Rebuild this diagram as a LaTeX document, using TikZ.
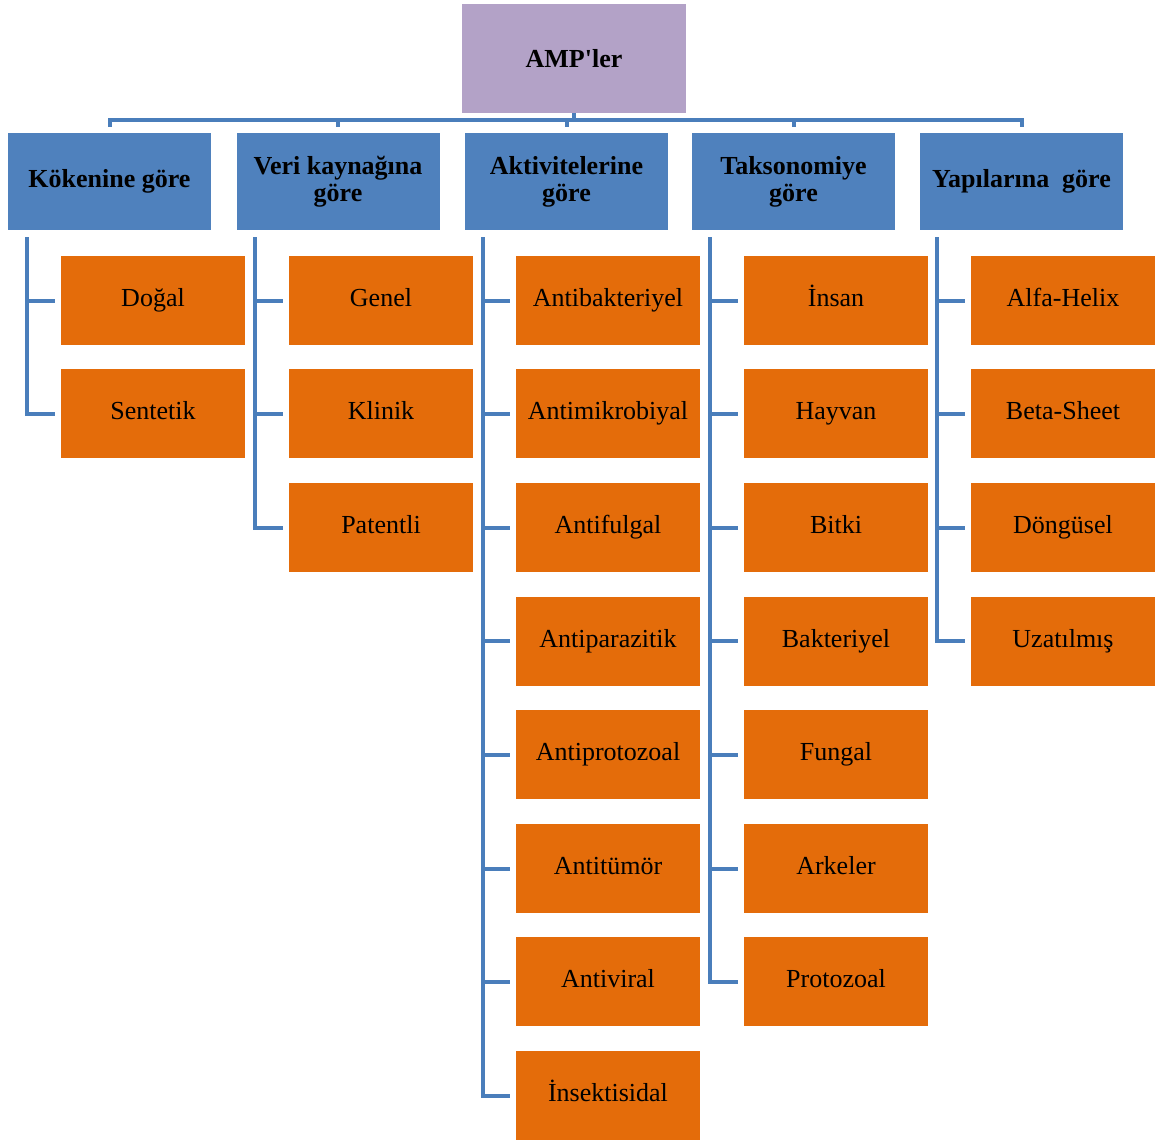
\documentclass[tikz,border=0pt]{standalone}
\usepackage{fontspec}
\setmainfont{Liberation Serif}[Ligatures=TeXOff]
\usepackage{tikz}
\usetikzlibrary{calc}
\definecolor{rootfill}{RGB}{179,162,199}
\definecolor{catfill}{RGB}{79,129,189}
\definecolor{leaffill}{RGB}{228,108,10}
\definecolor{linecol}{RGB}{74,126,187}
\tikzset{
  rootbox/.style={fill=rootfill,inner sep=4pt,minimum width=224pt,minimum height=109pt,font=\bfseries\fontsize{26}{27}\selectfont},
  catbox/.style={fill=catfill,inner sep=4pt,minimum width=203pt,minimum height=97pt,align=center,font=\bfseries\fontsize{26}{27}\selectfont},
  leafbox/.style={fill=leaffill,inner sep=4pt,minimum width=184pt,minimum height=89pt,text height=18pt,text depth=6pt,font=\fontsize{26}{27}\selectfont},
  conn/.style={draw=linecol,line width=4pt}
}
\begin{document}
\begin{tikzpicture}[x=1pt,y=-1pt]
              \useasboundingbox(0,0)rectangle(1155,1140);
              \node[rootbox](amp)at(574,58.5){AMP'ler};
              \node[catbox](kok)at(109.5,181.5){Kökenine göre};
              \node[catbox](veri)at(338,181.5){Veri kaynağına\\göre};
              \node[catbox](akt)at(566.5,181.5){Aktivitelerine\\göre};
              \node[catbox](tak)at(793.5,181.5){Taksonomiye\\göre};
              \node[catbox](yap)at(1021.5,181.5){Yapılarına~ göre};
              \node[leafbox](k1)at(153,300.5){Doğal};
              \node[leafbox](k2)at(153,413.5){Sentetik};
              \node[leafbox](v1)at(381,300.5){Genel};
              \node[leafbox](v2)at(381,413.5){Klinik};
              \node[leafbox](v3)at(381,527.5){Patentli};
              \node[leafbox](a1)at(608,300.5){Antibakteriyel};
              \node[leafbox](a2)at(608,413.5){Antimikrobiyal};
              \node[leafbox](a3)at(608,527.5){Antifulgal};
              \node[leafbox](a4)at(608,641){Antiparazitik};
              \node[leafbox](a5)at(608,754.5){Antiprotozoal};
              \node[leafbox](a6)at(608,868.5){Antitümör};
              \node[leafbox](a7)at(608,981.5){Antiviral};
              \node[leafbox](a8)at(608,1095.5){İnsektisidal};
              \node[leafbox](t1)at(836,300.5){İnsan};
              \node[leafbox](t2)at(836,413.5){Hayvan};
              \node[leafbox](t3)at(836,527.5){Bitki};
              \node[leafbox](t4)at(836,641){Bakteriyel};
              \node[leafbox](t5)at(836,754.5){Fungal};
              \node[leafbox](t6)at(836,868.5){Arkeler};
              \node[leafbox](t7)at(836,981.5){Protozoal};
              \node[leafbox](y1)at(1063,300.5){Alfa-Helix};
              \node[leafbox](y2)at(1063,413.5){Beta-Sheet};
              \node[leafbox](y3)at(1063,527.5){Döngüsel};
              \node[leafbox](y4)at(1063,641){Uzatılmış};
              \draw[conn](amp.south)--++(0,-7pt)-|([yshift=6pt]kok.north);
              \draw[conn](amp.south)--++(0,-7pt)-|([yshift=6pt]veri.north);
              \draw[conn](amp.south)--++(0,-7pt)-|([yshift=6pt]akt.north);
              \draw[conn](amp.south)--++(0,-7pt)-|([yshift=6pt]tak.north);
              \draw[conn](amp.south)--++(0,-7pt)-|([yshift=6pt]yap.north);
              \draw[conn]([xshift=19pt,yshift=-7pt]kok.south west)|-([xshift=-6pt]k1.west);
              \draw[conn]([xshift=19pt,yshift=-7pt]kok.south west)|-([xshift=-6pt]k2.west);
              \draw[conn]([xshift=19pt,yshift=-7pt]veri.south west)|-([xshift=-6pt]v1.west);
              \draw[conn]([xshift=19pt,yshift=-7pt]veri.south west)|-([xshift=-6pt]v2.west);
              \draw[conn]([xshift=19pt,yshift=-7pt]veri.south west)|-([xshift=-6pt]v3.west);
              \draw[conn]([xshift=18pt,yshift=-7pt]akt.south west)|-([xshift=-6pt]a1.west);
              \draw[conn]([xshift=18pt,yshift=-7pt]akt.south west)|-([xshift=-6pt]a2.west);
              \draw[conn]([xshift=18pt,yshift=-7pt]akt.south west)|-([xshift=-6pt]a3.west);
              \draw[conn]([xshift=18pt,yshift=-7pt]akt.south west)|-([xshift=-6pt]a4.west);
              \draw[conn]([xshift=18pt,yshift=-7pt]akt.south west)|-([xshift=-6pt]a5.west);
              \draw[conn]([xshift=18pt,yshift=-7pt]akt.south west)|-([xshift=-6pt]a6.west);
              \draw[conn]([xshift=18pt,yshift=-7pt]akt.south west)|-([xshift=-6pt]a7.west);
              \draw[conn]([xshift=18pt,yshift=-7pt]akt.south west)|-([xshift=-6pt]a8.west);
              \draw[conn]([xshift=18pt,yshift=-7pt]tak.south west)|-([xshift=-6pt]t1.west);
              \draw[conn]([xshift=18pt,yshift=-7pt]tak.south west)|-([xshift=-6pt]t2.west);
              \draw[conn]([xshift=18pt,yshift=-7pt]tak.south west)|-([xshift=-6pt]t3.west);
              \draw[conn]([xshift=18pt,yshift=-7pt]tak.south west)|-([xshift=-6pt]t4.west);
              \draw[conn]([xshift=18pt,yshift=-7pt]tak.south west)|-([xshift=-6pt]t5.west);
              \draw[conn]([xshift=18pt,yshift=-7pt]tak.south west)|-([xshift=-6pt]t6.west);
              \draw[conn]([xshift=18pt,yshift=-7pt]tak.south west)|-([xshift=-6pt]t7.west);
              \draw[conn]([xshift=17pt,yshift=-7pt]yap.south west)|-([xshift=-6pt]y1.west);
              \draw[conn]([xshift=17pt,yshift=-7pt]yap.south west)|-([xshift=-6pt]y2.west);
              \draw[conn]([xshift=17pt,yshift=-7pt]yap.south west)|-([xshift=-6pt]y3.west);
              \draw[conn]([xshift=17pt,yshift=-7pt]yap.south west)|-([xshift=-6pt]y4.west);
            \end{tikzpicture}
\end{document}
